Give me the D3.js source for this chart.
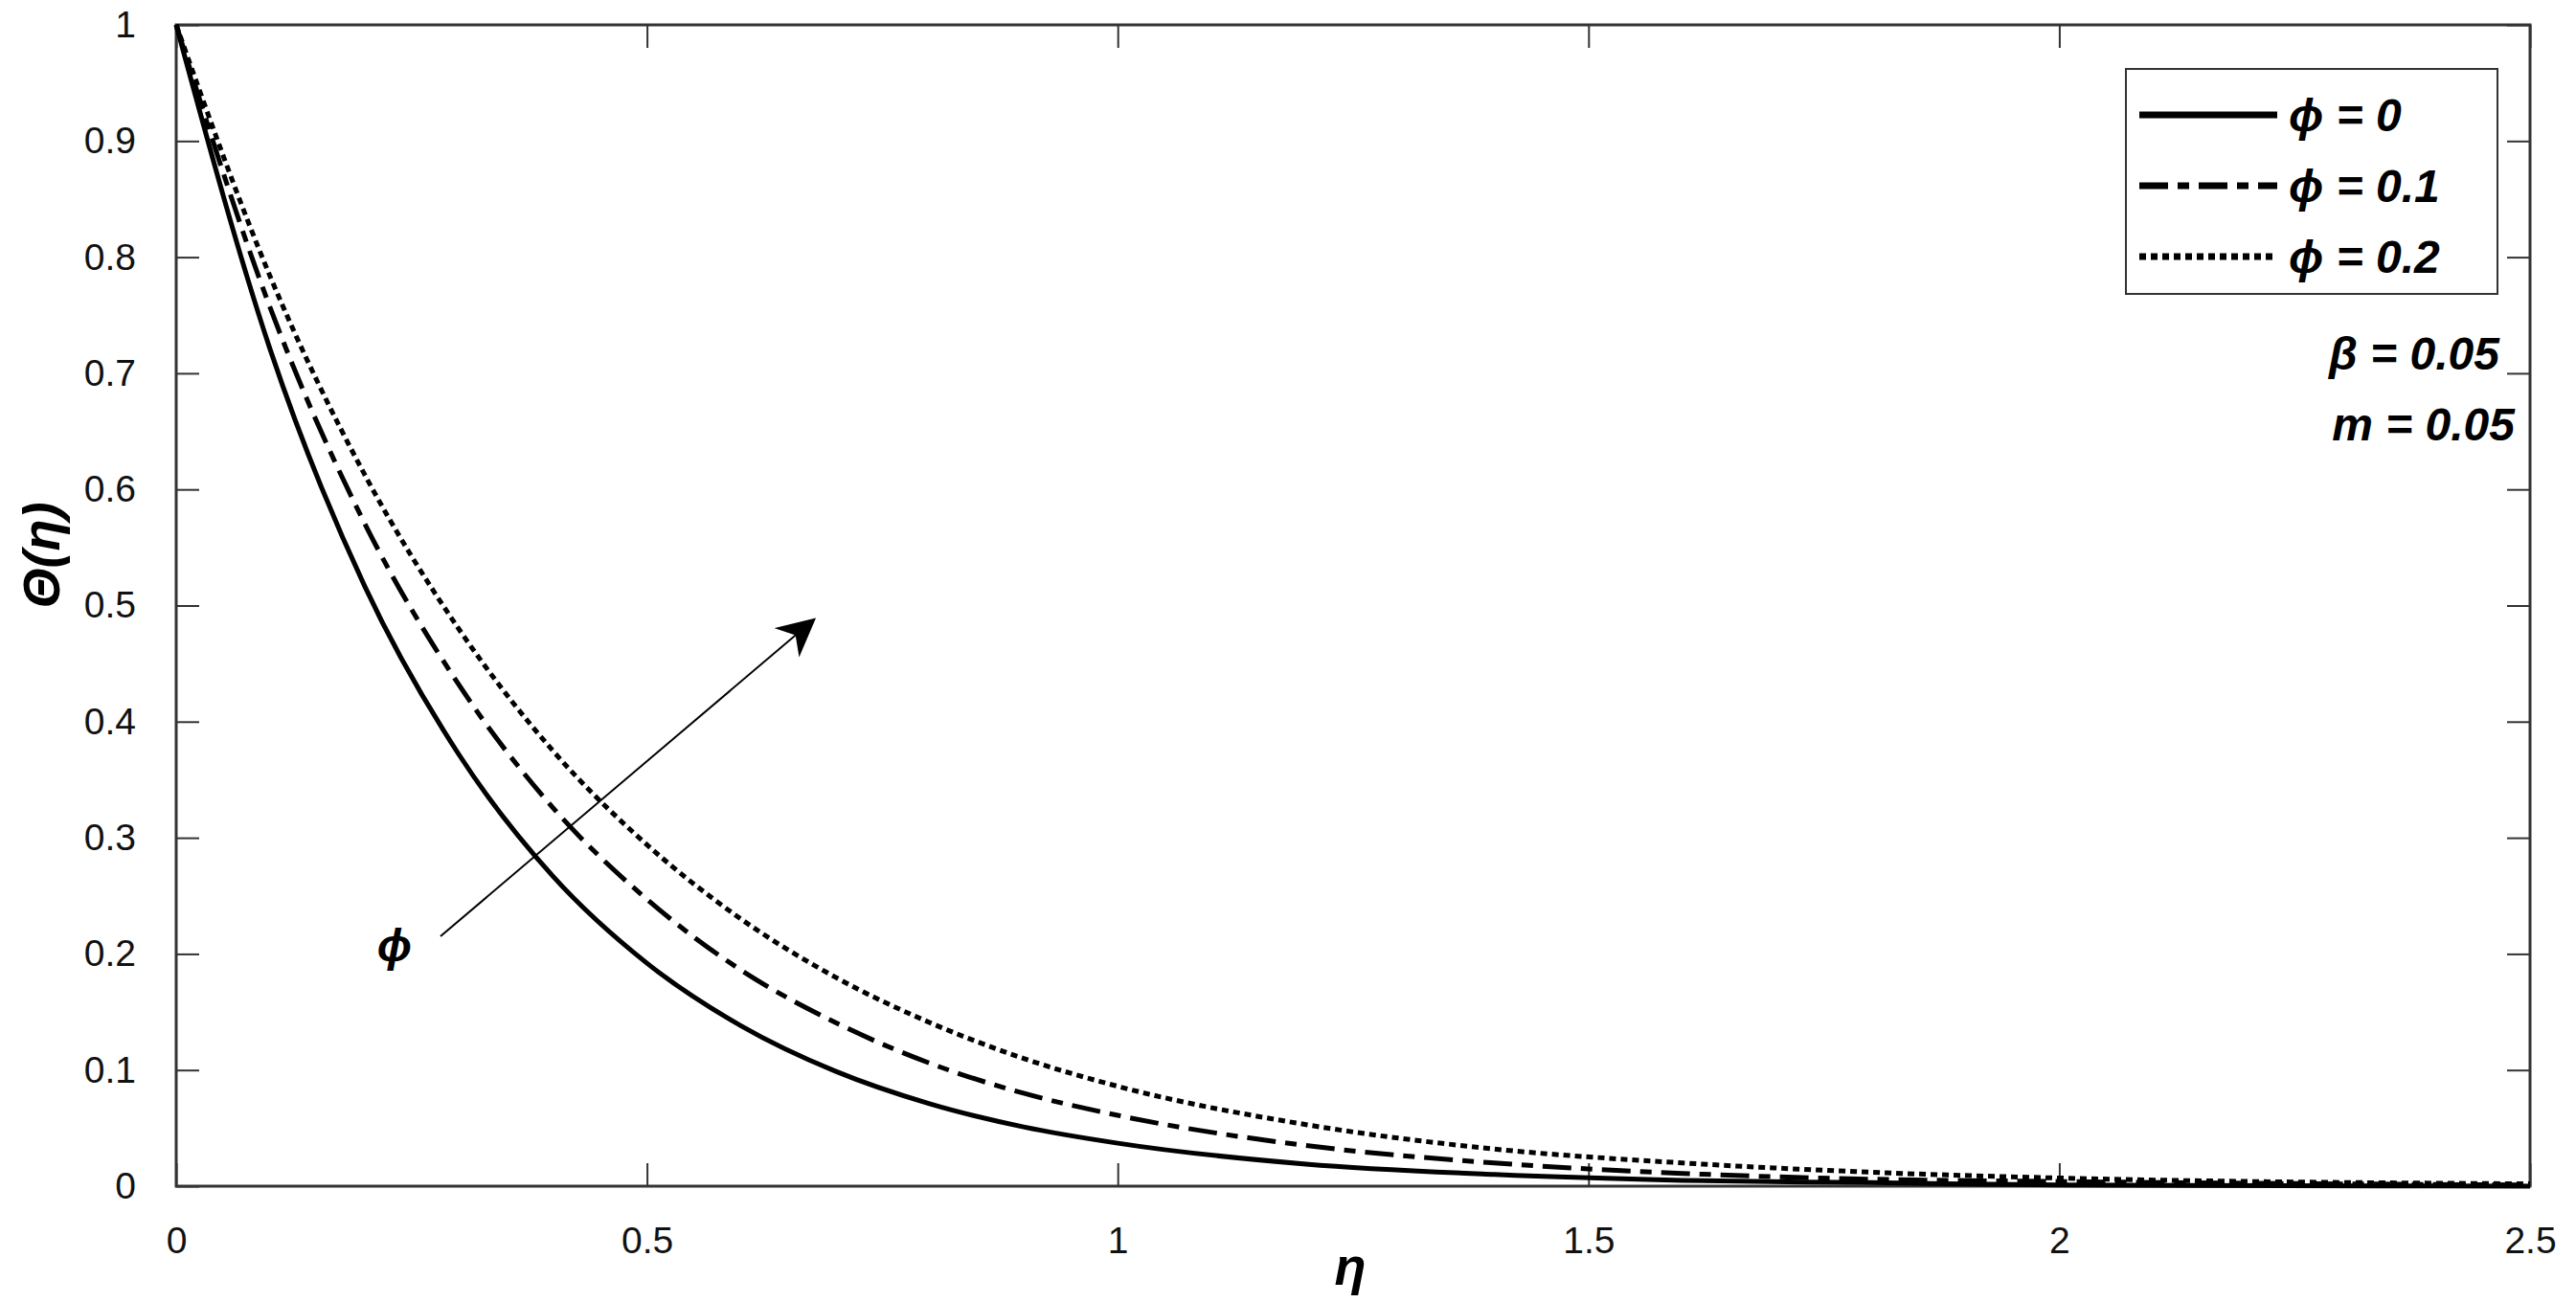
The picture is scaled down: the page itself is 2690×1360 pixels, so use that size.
<!DOCTYPE html>
<html>
<head>
<meta charset="utf-8">
<script src="https://cdn.jsdelivr.net/npm/d3@7"></script>
<style>
body { margin: 0; background: #fff; }
text { font-family: Arial, "Liberation Sans", sans-serif; }
</style>
</head>
<body>
<div id="graph"></div>
<script>
// data
const etas = [0, 0.1, 0.2, 0.3, 0.4, 0.5, 0.6, 0.7, 0.8, 0.9, 1, 1.2, 1.4, 1.6, 1.8, 2, 2.5]
const phi0 = [1, .72, .517, .372, .267, .192, .138, .099, .071, .051, .037, .019, .010, .005, .003, .001, 0]
const phi01 = [1, .756, .571, .432, .326, .247, .186, .141, .106, .080, .061, .035, .020, .011, .006, .004, .001]
const phi02 = [1, .783, .613, .480, .375, .294, .230, .180, .141, .110, .086, .053, .032, .020, .012, .007, .002]
const seriesNames = ['\u03d5 = 0', '\u03d5 = 0.1', '\u03d5 = 0.2']
const xTicks = [0, 0.5, 1, 1.5, 2, 2.5]
const yTicks = [0, 0.1, 0.2, 0.3, 0.4, 0.5, 0.6, 0.7, 0.8, 0.9, 1]

const W = 2690, H = 1360
const margin = { top: 26, right: 48, bottom: 121, left: 184 }
const width = W - margin.left - margin.right
const height = H - margin.top - margin.bottom

const svg = d3.select('#graph').append('svg')
    .attr('width', W).attr('height', H)

const g = svg.append('g').attr('transform', 'translate(' + margin.left + ',' + margin.top + ')')

const x = d3.scaleLinear().domain([0, 2.5]).range([0, width])
const y = d3.scaleLinear().domain([0, 1]).range([height, 0])

const fmt = d => String(d)
const axisStyle = sel => {
    sel.select('.domain').remove()
    sel.selectAll('line').attr('stroke', '#333').attr('stroke-width', 2)
    sel.selectAll('text').attr('font-size', 39).attr('fill', '#111')
}
g.append('g').attr('transform', 'translate(0,' + height + ')')
    .call(d3.axisBottom(x).tickValues(xTicks).tickFormat(fmt).tickSize(-24).tickPadding(42))
    .call(axisStyle)
g.append('g').attr('transform', 'translate(0,0)')
    .call(d3.axisTop(x).tickValues(xTicks).tickFormat('').tickSize(-24))
    .call(axisStyle)
g.append('g')
    .call(d3.axisLeft(y).tickValues(yTicks).tickFormat(fmt).tickSize(-24).tickPadding(42))
    .call(axisStyle)
g.append('g').attr('transform', 'translate(' + width + ',0)')
    .call(d3.axisRight(y).tickValues(yTicks).tickFormat('').tickSize(-24))
    .call(axisStyle)
g.append('rect').attr('width', width).attr('height', height)
    .attr('fill', 'none').attr('stroke', '#333').attr('stroke-width', 3)

const dashes = [null, '30,10,12,10', '7,5']
const line = d3.line().x(d => x(d[0])).y(d => y(d[1])).curve(d3.curveMonotoneX)
;[phi0, phi01, phi02].forEach((vals, i) => {
    g.append('path').datum(etas.map((e, j) => [e, vals[j]]))
        .attr('d', line).attr('fill', 'none').attr('stroke', '#000')
        .attr('stroke-width', 5).attr('stroke-dasharray', dashes[i])
})

// legend
const lg = svg.append('g').attr('transform', 'translate(2220,72)')
lg.append('rect').attr('width', 388).attr('height', 235)
    .attr('fill', '#fff').attr('stroke', '#333').attr('stroke-width', 2)
seriesNames.forEach((n, i) => {
    const yy = 48 + i * 74
    lg.append('line').attr('x1', 14).attr('x2', 158).attr('y1', yy).attr('y2', yy)
        .attr('stroke', '#000').attr('stroke-width', 7).attr('stroke-dasharray', dashes[i])
    lg.append('text').attr('x', 170).attr('y', yy + 17).text(n)
        .attr('font-size', 48).attr('font-weight', 'bold').attr('font-style', 'italic')
})
svg.append('text').attr('x', 2610).attr('y', 386).attr('text-anchor', 'end')
    .attr('font-size', 48).attr('font-weight', 'bold').attr('font-style', 'italic').text('\u03b2 = 0.05')
svg.append('text').attr('x', 2626).attr('y', 460).attr('text-anchor', 'end')
    .attr('font-size', 48).attr('font-weight', 'bold').attr('font-style', 'italic').text('m = 0.05')

// axis labels
svg.append('text').attr('x', 1410).attr('y', 1342).attr('text-anchor', 'middle')
    .attr('font-size', 54).attr('font-weight', 'bold').attr('font-style', 'italic').text('\u03b7')
svg.append('text').attr('transform', 'translate(62,580) rotate(-90)').attr('text-anchor', 'middle')
    .attr('font-size', 54).attr('font-weight', 'bold').attr('font-style', 'italic').text('\u0398(\u03b7)')

// arrow annotation
svg.append('defs').append('marker').attr('id', 'ah').attr('viewBox', '0 0 10 10')
    .attr('refX', 9).attr('refY', 5).attr('markerWidth', 40).attr('markerHeight', 40)
    .attr('markerUnits', 'userSpaceOnUse').attr('orient', 'auto')
    .append('path').attr('d', 'M0,0 L10,5 L0,10 L3,5 Z').attr('fill', '#000')
svg.append('line').attr('x1', 460).attr('y1', 978).attr('x2', 849).attr('y2', 648)
    .attr('stroke', '#000').attr('stroke-width', 2).attr('marker-end', 'url(#ah)')
svg.append('text').attr('x', 412).attr('y', 1004).attr('text-anchor', 'middle')
    .attr('font-size', 48).attr('font-weight', 'bold').attr('font-style', 'italic').text('\u03d5')
</script>
</body>
</html>
